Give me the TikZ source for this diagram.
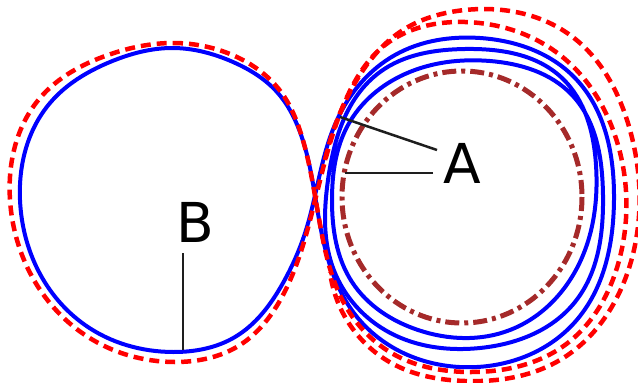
\documentclass[tikz,border=0pt]{standalone}
\usepackage{fontspec}
\setmainfont{DejaVu Sans}
\usetikzlibrary{hobby}
\begin{document}
\begin{tikzpicture}[x=1pt,y=-1pt,
  bluecurve/.style={draw=blue,line width=4pt,line join=round},
  reddash/.style={draw=red,line width=4.5pt,dash pattern=on 10pt off 6pt},
  limitcyc/.style={draw={rgb,255:red,165;green,42;blue,42},line width=5pt,dash pattern=on 14pt off 5pt on 4pt off 5pt},
  leader/.style={draw={rgb,255:red,30;green,30;blue,30},line width=2.5pt},
  lab/.style={font=\fontsize{55}{55}\selectfont,inner sep=0pt,anchor=base}]
\useasboundingbox (0,0) rectangle (638,383);
% blue figure eight
\draw[bluecurve] plot[closed hobby] coordinates {
 (173,48) (233,62) (277,92) (300,132)
 (321,230) (357,317) (477,367) (575,322) (614,200) (575,78) (480,38) (395,55) (337,120)
 (306,230) (283,283) (235,337) (173,352) (85,325) (20,200) (50,103) (110,62)};
% blue inner loops
\draw[bluecurve] plot[closed hobby] coordinates {
 (380,72) (465,49) (562,78) (596,165) (580,262) (510,330) (418,330) (352,282) (332,200) (348,125) (405,74) (490,61) (572,95) (603,195) (575,302) (480,348) (385,330) (332,265) (328,180)};
% red figure eight
\draw[reddash] plot[closed hobby] coordinates {
 (173,43) (230,54) (281,92) (302,137)
 (322,235) (345,305) (395,355) (470,372) (565,345) (620,257) (618,145) (560,55) (465,22) (385,45) (347,97)
 (306,235) (283,295) (240,345) (175,362) (85,335) (10,200) (40,98) (108,55)};
% red outer loop
\draw[reddash] plot[hobby] coordinates {
 (325,160) (350,92) (403,30) (465,10) (570,35) (630,130) (630,265) (560,360) (465,381) (395,365) (350,325) (330,272)};
% limit cycle
\draw[limitcyc] (462,197) ellipse[x radius=120,y radius=126];
% labels
\node[lab] (A) at (462.5,183) {A};
\node[lab] (B) at (195,242) {B};
\coordinate (a1) at (340,117);
\coordinate (a1e) at (437,150);
\coordinate (a2) at (345,173);
\coordinate (a2e) at (433,173);
\coordinate (b1) at (183,253);
\coordinate (b1e) at (183,350);
\draw[leader] (a1e) -- (a1);
\draw[leader] (a2e) -- (a2);
\draw[leader] (b1) -- (b1e);
\end{tikzpicture}
\end{document}
